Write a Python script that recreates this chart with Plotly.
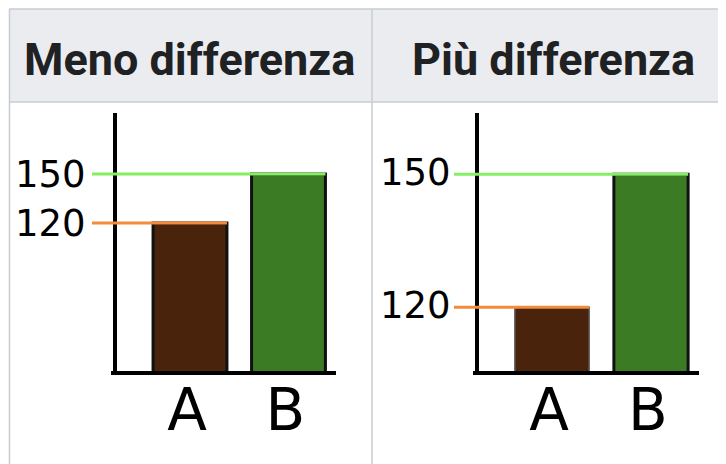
import plotly.graph_objects as go

W, H = 726, 464
OFF = 8  # page body margin around the plot div

headers = ["Meno differenza", "Più differenza"]
categories = ["A", "B"]
values = [120, 150]
tick_values = [120, 150]
bar_colors = ["#4a230c", "#3a7b24"]
ref_line_colors = ["#f28b3c", "#86ee62"]

# per panel, in screen px: y axis x, right end, where the reference lines start
panels = [
    {"axis_px": 115, "right_px": 336, "line_px": 92, "centers_px": (190, 288.5),
     "yr": (29.4, 187.4),
     "bar_line_colors": ["#111111", "#111111"], "bar_line_widths": [3, 3],
     "tick_len": 20, "label_shift": 0},
    {"axis_px": 477, "right_px": 699, "line_px": 454, "centers_px": (552, 651),
     "yr": (105.6, 163.8),
     "bar_line_colors": ["#5a5a5a", "#111111"], "bar_line_widths": [1.5, 3],
     "tick_len": 17, "label_shift": -2},
]
plot_top, plot_bottom = 113, 371


def sx(x):
    return (x - OFF) / W


def sy(y):
    return 1 - (y - OFF) / H


fig = go.Figure()
layout = {}
shapes = []

for i, panel in enumerate(panels):
    suffix = "" if i == 0 else str(i + 1)
    xa, ya = "x" + suffix, "y" + suffix
    c0, c1 = panel["centers_px"]
    unit = c1 - c0
    x_range = [(panel["line_px"] - c0) / unit, 1 + (panel["right_px"] - c1) / unit]

    fig.add_trace(
        go.Bar(
            x=categories,
            y=values,
            width=0.75,
            marker=dict(
                color=bar_colors,
                line=dict(color=panel["bar_line_colors"], width=panel["bar_line_widths"]),
            ),
            xaxis=xa,
            yaxis=ya,
            showlegend=False,
            hoverinfo="skip",
        )
    )
    layout["xaxis" + suffix] = dict(
        domain=[sx(panel["line_px"]), sx(panel["right_px"])],
        range=x_range,
        anchor=ya,
        showline=False, showgrid=False, zeroline=False,
        ticks="", ticklabelstandoff=0, ticklabelshift=-3,
        tickfont=dict(family="DejaVu Sans", size=58, color="black"),
        fixedrange=True,
    )
    layout["yaxis" + suffix] = dict(
        domain=[sy(plot_bottom), sy(plot_top)],
        range=list(panel["yr"]),
        anchor="free", position=sx(panel["axis_px"]),
        showline=True, linecolor="black", linewidth=4,
        showgrid=False, zeroline=False,
        tickvals=tick_values,
        ticks="outside", ticklen=panel["tick_len"], tickcolor="rgba(0,0,0,0)",
        ticklabelshift=panel["label_shift"],
        tickfont=dict(family="DejaVu Sans", size=37, color="black"),
        fixedrange=True,
    )
    # baseline of the panel (x axis line starting at the y axis)
    shapes.append(dict(
        type="line", xref="paper", yref="paper",
        x0=sx(panel["axis_px"] - 4), x1=sx(panel["right_px"]),
        y0=sy(plot_bottom + 2), y1=sy(plot_bottom + 2),
        line=dict(color="black", width=4),
    ))
    for j, v in enumerate(values):
        shapes.append(dict(
            type="line", xref=xa, yref=ya,
            x0=x_range[0], x1=j + 0.375, y0=v, y1=v,
            line=dict(color=ref_line_colors[j], width=3),
            layer="above",
        ))

# table-like header and borders
border = "#c8ccd1"
shapes.append(dict(type="rect", xref="paper", yref="paper",
                   x0=sx(9), x1=1.02, y0=sy(102), y1=sy(9),
                   fillcolor="#eaecf0", line=dict(width=0), layer="below"))
for y in (9, 102):
    shapes.append(dict(type="line", xref="paper", yref="paper",
                       x0=sx(9), x1=1.02, y0=sy(y), y1=sy(y),
                       line=dict(color=border, width=1.5)))
for x in (9.5, 372):
    shapes.append(dict(type="line", xref="paper", yref="paper",
                       x0=sx(x), x1=sx(x), y0=-0.02, y1=sy(9),
                       line=dict(color=border, width=1.5)))

annotations = []
for k, text in enumerate(headers):
    cx = 190 if k == 0 else 553
    annotations.append(dict(
        text=text, x=sx(cx), y=sy(60), xref="paper", yref="paper",
        xanchor="center", yanchor="middle", showarrow=False,
        font=dict(family="Roboto", size=45, color="#202122", weight="bold"),
    ))

fig.update_layout(
    width=W, height=H,
    margin=dict(l=0, r=0, t=0, b=0),
    paper_bgcolor="white", plot_bgcolor="rgba(0,0,0,0)",
    shapes=shapes,
    annotations=annotations,
    **layout,
)

fig.write_html("out.html")
